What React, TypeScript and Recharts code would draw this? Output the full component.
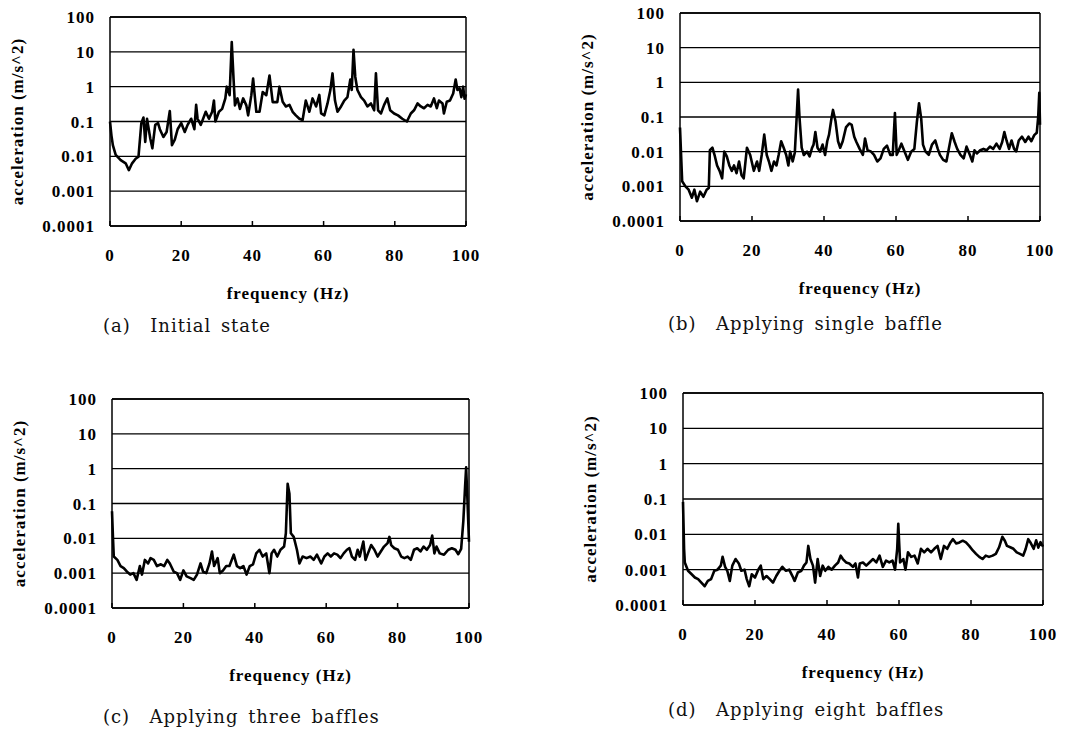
import { CartesianGrid, Label, Line, LineChart, ReferenceLine, XAxis, YAxis } from "recharts";

// frequency (Hz) / acceleration (m/s^2)
const freqA = [0, 0.4, 0.8, 1.6, 3, 4.4, 5.3, 6.2, 7.2, 8, 8.8, 9.4, 9.9, 10.4, 11.3, 11.9, 12.7, 13.5, 14, 15, 15.9, 16.8, 17.4, 18.2, 19, 20, 21, 21.8, 22.8, 23.7, 24.2, 24.6, 25.5, 26.9, 27.8, 28.7, 29.2, 29.6, 30.6, 31.5, 32.4, 32.8, 33.6, 34.2, 34.7, 35.1, 35.8, 36.5, 37.4, 38.3, 38.8, 39.7, 40.2, 41.1, 42, 42.9, 43.9, 44.8, 45.7, 47, 47.6, 48.5, 49.4, 50.4, 51.3, 52.2, 53.2, 54.1, 55, 56, 56.9, 57.9, 58.8, 59.3, 60.2, 61.1, 61.9, 62.5, 63.2, 63.9, 64.9, 65.8, 66.7, 67.5, 67.9, 68.4, 68.9, 69.5, 70.5, 71.4, 72.3, 73.3, 74.2, 74.7, 75.3, 76.1, 77, 77.9, 78.7, 79.8, 80.9, 82.1, 83.4, 84.5, 85.4, 86.4, 87.3, 88.2, 89.2, 90.1, 91, 91.8, 92.4, 93.4, 93.8, 94.6, 95.5, 96.4, 97.1, 97.6, 98.2, 98.7, 99.2, 99.6, 100];
const accA = [0.1, 0.04, 0.021, 0.011, 0.0078, 0.0063, 0.004, 0.0063, 0.0085, 0.0097, 0.09, 0.13, 0.026, 0.12, 0.033, 0.017, 0.08, 0.09, 0.06, 0.036, 0.05, 0.2, 0.021, 0.03, 0.06, 0.09, 0.05, 0.08, 0.12, 0.06, 0.3, 0.12, 0.08, 0.19, 0.12, 0.19, 0.4, 0.1, 0.19, 0.23, 0.46, 1.0, 0.57, 19, 1.7, 0.29, 0.46, 0.23, 0.46, 0.29, 0.15, 0.57, 1.7, 0.19, 0.19, 0.7, 0.57, 2.1, 0.36, 0.36, 1.0, 0.37, 0.27, 0.3, 0.19, 0.15, 0.12, 0.11, 0.4, 0.19, 0.46, 0.27, 0.58, 0.17, 0.15, 0.33, 0.8, 2.4, 0.4, 0.19, 0.27, 0.4, 0.5, 1.6, 0.8, 11.5, 1.9, 0.8, 0.5, 0.4, 0.27, 0.33, 0.21, 2.4, 0.21, 0.17, 0.3, 0.46, 0.21, 0.17, 0.15, 0.12, 0.1, 0.17, 0.21, 0.33, 0.27, 0.24, 0.3, 0.27, 0.46, 0.24, 0.4, 0.33, 0.17, 0.37, 0.4, 0.64, 1.6, 0.8, 0.9, 0.5, 1.0, 0.45, 0.6];

const freqB = [0, 0.6, 1.5, 2.4, 3.3, 4, 4.7, 5.6, 6.5, 7.4, 8, 8.3, 9, 9.6, 10.3, 11, 11.7, 12.3, 13, 13.7, 14.4, 15, 15.7, 16.4, 17.1, 17.7, 18.6, 19.5, 20.5, 21.4, 22, 22.7, 23.4, 24.1, 24.7, 25.4, 26.1, 26.8, 27.4, 28.1, 28.8, 29.5, 30.1, 30.6, 31.3, 31.9, 32.4, 32.8, 33.2, 33.8, 34.4, 35.3, 36, 36.7, 37.1, 37.6, 38.2, 38.9, 39.6, 40.3, 40.9, 41.4, 42.1, 42.5, 43.2, 43.9, 44.5, 45.2, 46.1, 47, 47.7, 48.4, 49, 49.9, 50.8, 51.4, 52.1, 53, 53.9, 54.8, 55.7, 56.6, 57.5, 58.4, 59.1, 59.7, 60.2, 60.9, 61.5, 62.4, 63.3, 64.2, 65.1, 65.8, 66.4, 67, 67.5, 68.2, 69.1, 70, 70.9, 71.6, 72.2, 73.1, 74, 74.9, 75.5, 76.3, 77, 77.9, 78.8, 79.6, 80.5, 81.2, 81.8, 82.5, 83.4, 84.3, 85.2, 86.1, 87, 87.9, 88.8, 89.5, 90.1, 90.7, 91.4, 92.1, 92.8, 93.4, 94.1, 95, 95.9, 96.8, 97.6, 98.4, 99.1, 99.5, 99.8, 100];
const accB = [0.05, 0.0014, 0.001, 0.0008, 0.00047, 0.0008, 0.00037, 0.0007, 0.0005, 0.0008, 0.0009, 0.011, 0.013, 0.008, 0.004, 0.0028, 0.0017, 0.01, 0.0073, 0.004, 0.0028, 0.004, 0.0024, 0.0052, 0.0021, 0.0017, 0.013, 0.008, 0.0028, 0.0052, 0.0028, 0.008, 0.031, 0.008, 0.0052, 0.0028, 0.0052, 0.004, 0.008, 0.02, 0.013, 0.008, 0.004, 0.01, 0.0052, 0.0095, 0.095, 0.62, 0.095, 0.013, 0.008, 0.01, 0.0073, 0.013, 0.016, 0.037, 0.013, 0.01, 0.016, 0.008, 0.02, 0.031, 0.095, 0.16, 0.075, 0.02, 0.013, 0.02, 0.05, 0.065, 0.059, 0.027, 0.019, 0.012, 0.0081, 0.024, 0.011, 0.0102, 0.0081, 0.0052, 0.0064, 0.012, 0.015, 0.0081, 0.0081, 0.13, 0.0081, 0.012, 0.017, 0.01, 0.0058, 0.01, 0.012, 0.072, 0.25, 0.09, 0.016, 0.01, 0.0081, 0.016, 0.021, 0.012, 0.0081, 0.0058, 0.0052, 0.016, 0.034, 0.019, 0.012, 0.0081, 0.0064, 0.014, 0.0081, 0.0052, 0.011, 0.0089, 0.011, 0.012, 0.011, 0.014, 0.012, 0.017, 0.012, 0.019, 0.037, 0.021, 0.012, 0.021, 0.012, 0.0102, 0.021, 0.027, 0.019, 0.027, 0.02, 0.03, 0.035, 0.1, 0.5, 0.06];

const freqC = [0, 0.3, 0.5, 1.5, 2.4, 3.3, 4.2, 5.1, 6, 6.9, 7.8, 8.4, 9.2, 10.1, 10.8, 11.7, 12.6, 13.7, 14.6, 15.5, 16.2, 17.3, 18.2, 19.1, 20, 20.9, 22, 22.9, 23.8, 24.8, 25.5, 26.4, 27.3, 28, 28.6, 29.6, 30.2, 31.1, 32, 32.9, 34.1, 35, 35.9, 36.8, 37.7, 38.6, 39.5, 40.4, 41.3, 42.2, 43.2, 44.1, 44.7, 45.4, 46.3, 47.2, 48.2, 48.7, 49.2, 49.7, 50.1, 50.9, 51.8, 52.5, 53.4, 54.5, 55.6, 56.5, 57.4, 58.6, 59.5, 60.4, 61.3, 62.2, 63.1, 64, 64.9, 65.8, 66.5, 67.2, 68.1, 68.8, 69.4, 70.4, 71, 71.7, 72.6, 73.5, 74.4, 75.3, 76.2, 77.2, 77.7, 78.2, 79.1, 80.1, 81, 81.9, 82.8, 83.7, 84.6, 85.5, 86.4, 87.3, 88.2, 89.1, 89.7, 90.3, 90.9, 91.8, 93, 94.2, 95.2, 96.2, 97, 97.8, 98.4, 98.9, 99.2, 99.6, 100];
const accC = [0.06, 0.009, 0.003, 0.0024, 0.0016, 0.0014, 0.0011, 0.00091, 0.001, 0.00064, 0.0016, 0.00091, 0.0024, 0.0019, 0.0027, 0.0024, 0.0016, 0.0018, 0.0016, 0.0024, 0.0019, 0.0011, 0.001, 0.00064, 0.0012, 0.00081, 0.00072, 0.00064, 0.00091, 0.0019, 0.0011, 0.001, 0.0019, 0.0042, 0.0016, 0.0027, 0.001, 0.0012, 0.0016, 0.0016, 0.0034, 0.0016, 0.0014, 0.0016, 0.00091, 0.0016, 0.0018, 0.0037, 0.0047, 0.003, 0.0037, 0.001, 0.0037, 0.0047, 0.003, 0.0047, 0.0058, 0.014, 0.37, 0.19, 0.014, 0.011, 0.0047, 0.0019, 0.003, 0.0027, 0.003, 0.0024, 0.0034, 0.0019, 0.003, 0.0037, 0.003, 0.0037, 0.0034, 0.0027, 0.0037, 0.0047, 0.0052, 0.003, 0.0024, 0.0047, 0.003, 0.0081, 0.0024, 0.0037, 0.0064, 0.0047, 0.003, 0.0042, 0.0058, 0.0073, 0.011, 0.0064, 0.0052, 0.0047, 0.003, 0.0027, 0.003, 0.0024, 0.0047, 0.0052, 0.0042, 0.0058, 0.0047, 0.0064, 0.012, 0.0037, 0.0058, 0.0037, 0.0034, 0.0047, 0.0052, 0.0047, 0.0035, 0.005, 0.03, 0.3, 1.1, 0.1, 0.008];

const freqD = [0, 0.3, 0.5, 1.4, 2.4, 3.3, 4.2, 5.1, 6, 6.9, 7.8, 8.7, 9.6, 10.5, 11, 11.7, 12.3, 13, 13.7, 14.6, 15.5, 16.2, 17.1, 17.7, 18.4, 19.1, 20, 20.9, 21.6, 22.3, 23.2, 24.1, 25, 25.9, 26.8, 27.6, 28.6, 29.5, 30.4, 31, 31.9, 32.9, 33.6, 34.3, 34.8, 35.4, 36.1, 36.7, 37.4, 38.1, 38.8, 39.5, 40.4, 41.3, 42.2, 43.1, 43.8, 44.4, 45.3, 46.2, 47.2, 47.9, 48.6, 49.1, 50, 50.9, 51.8, 52.8, 53.7, 54.6, 55.5, 56.4, 57.3, 58.2, 58.9, 59.5, 59.8, 60.3, 61.2, 61.8, 62.5, 63.4, 64.3, 65.2, 66.1, 67, 67.9, 68.9, 69.8, 70.7, 71.6, 72.5, 73.4, 74.3, 75, 75.9, 76.8, 77.7, 78.6, 79.5, 80.5, 81.4, 82.3, 83.2, 84.1, 85, 86, 86.9, 87.8, 88.7, 89.4, 90, 90.9, 91.8, 92.7, 93.6, 94.5, 95.2, 95.9, 96.5, 97.4, 98.1, 98.7, 99.3, 100];
const accD = [0.083, 0.0039, 0.0016, 0.00093, 0.00074, 0.0006, 0.00054, 0.00043, 0.00034, 0.00048, 0.00054, 0.00093, 0.001, 0.0013, 0.0023, 0.0012, 0.00093, 0.00048, 0.0013, 0.002, 0.0015, 0.00093, 0.001, 0.00054, 0.00034, 0.00074, 0.0006, 0.001, 0.0013, 0.00054, 0.00066, 0.00054, 0.00043, 0.00066, 0.00093, 0.0012, 0.00093, 0.001, 0.00066, 0.00048, 0.00083, 0.00093, 0.0013, 0.0016, 0.0047, 0.002, 0.0013, 0.00043, 0.002, 0.00066, 0.0013, 0.00093, 0.0012, 0.001, 0.0013, 0.0016, 0.0025, 0.002, 0.0016, 0.0015, 0.0012, 0.0015, 0.0006, 0.0015, 0.0016, 0.0013, 0.0016, 0.002, 0.0016, 0.0025, 0.0012, 0.0018, 0.0016, 0.0018, 0.001, 0.0039, 0.02, 0.0016, 0.002, 0.001, 0.0031, 0.0023, 0.0025, 0.0015, 0.0039, 0.0031, 0.0039, 0.0031, 0.0039, 0.0047, 0.002, 0.0047, 0.0039, 0.0059, 0.0073, 0.0055, 0.0059, 0.0066, 0.0059, 0.0047, 0.0035, 0.0028, 0.0023, 0.002, 0.0025, 0.0023, 0.0025, 0.0028, 0.0043, 0.0085, 0.0066, 0.0047, 0.0043, 0.0039, 0.0031, 0.0028, 0.0025, 0.0039, 0.0073, 0.0059, 0.0039, 0.0068, 0.0042, 0.006, 0.0045];

const Y_TICKS = [0.0001, 0.001, 0.01, 0.1, 1, 10, 100];
const X_TICKS = [0, 20, 40, 60, 80, 100];
const CAPTIONS = ["(a)  Initial state", "(b)  Applying single baffle", "(c)  Applying three baffles", "(d)  Applying eight baffles"];

const SERIF = '"Liberation Serif", "Times New Roman", serif';
const TICK = { fontSize: 17, fontFamily: SERIF, fontWeight: 700, fill: "#000", letterSpacing: 1 };

type PanelProps = {
  freq: number[];
  acc: number[];
  left: number;
  top: number;
  width: number;
  height: number;
  plot: { left: number; top: number; right: number; bottom: number };
};

function Panel({ freq, acc, left, top, width, height, plot }: PanelProps) {
  const data = freq.map((f, i) => ({ f, v: acc[i] }));
  const yAxisWidth = plot.left - left;
  const xAxisHeight = top + height - plot.bottom;

  return (
    <div style={{ position: "absolute", left, top, width, height }}>
      <LineChart
        width={width}
        height={height}
        data={data}
        margin={{ top: plot.top - top, right: left + width - plot.right, bottom: 0, left: 0 }}
      >
        <CartesianGrid vertical={false} stroke="#000" strokeWidth={1.4} />
        <XAxis
          dataKey="f"
          type="number"
          domain={[0, 100]}
          ticks={X_TICKS}
          height={xAxisHeight}
          tick={TICK}
          tickSize={-5}
          tickMargin={28}
          stroke="#000"
          strokeWidth={1.5}
          interval={0}
        >
          <Label
            content={({ viewBox }: any) => (
              <text
                x={viewBox.x + viewBox.width / 2}
                y={viewBox.y + 73}
                textAnchor="middle"
                fontFamily={SERIF}
                fontWeight={700}
                fontSize={17}
                letterSpacing={1}
                fill="#000"
              >
                frequency (Hz)
              </text>
            )}
          />
        </XAxis>
        <YAxis
          type="number"
          scale="log"
          domain={[0.0001, 100]}
          ticks={Y_TICKS}
          allowDataOverflow
          width={yAxisWidth}
          tick={TICK}
          tickLine={false}
          tickSize={0}
          tickMargin={15}
          tickFormatter={(v) => String(v)}
          stroke="#000"
          strokeWidth={1.5}
          interval={0}
        >
          <Label
            content={({ viewBox }: any) => {
              const cx = viewBox.x + viewBox.width - 93;
              const cy = viewBox.y + viewBox.height / 2;
              return (
                <text
                  x={cx}
                  y={cy}
                  transform={`rotate(-90 ${cx} ${cy})`}
                  textAnchor="middle"
                  dominantBaseline="central"
                  fontFamily={SERIF}
                  fontWeight={700}
                  fontSize={17}
                  letterSpacing={1}
                  fill="#000"
                >
                  acceleration (m/s^2)
                </text>
              );
            }}
          />
        </YAxis>
        <ReferenceLine x={100} stroke="#000" strokeWidth={1.5} />
        <ReferenceLine y={100} stroke="#000" strokeWidth={1.5} />
        <Line
          type="linear"
          dataKey="v"
          stroke="#000"
          strokeWidth={2.6}
          strokeLinejoin="round"
          dot={false}
          isAnimationActive={false}
        />
      </LineChart>
    </div>
  );
}

function Caption({ text, left, top }: { text: string; left: number; top: number }) {
  return (
    <div
      style={{
        position: "absolute",
        left,
        top,
        fontFamily: '"DejaVu Serif", serif',
        fontSize: 18,
        letterSpacing: 1,
        wordSpacing: 3,
        whiteSpace: "pre",
        color: "#111",
        lineHeight: "20px",
      }}
    >
      {text}
    </div>
  );
}

export default function App() {
  return (
    <div style={{ position: "absolute", left: 0, top: 0, width: 1076, height: 732, background: "#fff" }}>
      <Panel freq={freqA} acc={accA} left={0} top={0} width={540} height={350}
        plot={{ left: 110, top: 17, right: 466, bottom: 226 }} />
      <Panel freq={freqB} acc={accB} left={540} top={0} width={536} height={350}
        plot={{ left: 680, top: 13, right: 1040, bottom: 221 }} />
      <Panel freq={freqC} acc={accC} left={0} top={360} width={540} height={372}
        plot={{ left: 112, top: 399, right: 469, bottom: 608 }} />
      <Panel freq={freqD} acc={accD} left={540} top={360} width={536} height={372}
        plot={{ left: 683, top: 393, right: 1043, bottom: 605 }} />
      <Caption text={CAPTIONS[0]} left={103} top={316} />
      <Caption text={CAPTIONS[1]} left={668} top={314} />
      <Caption text={CAPTIONS[2]} left={103} top={707} />
      <Caption text={CAPTIONS[3]} left={668} top={700} />
    </div>
  );
}
